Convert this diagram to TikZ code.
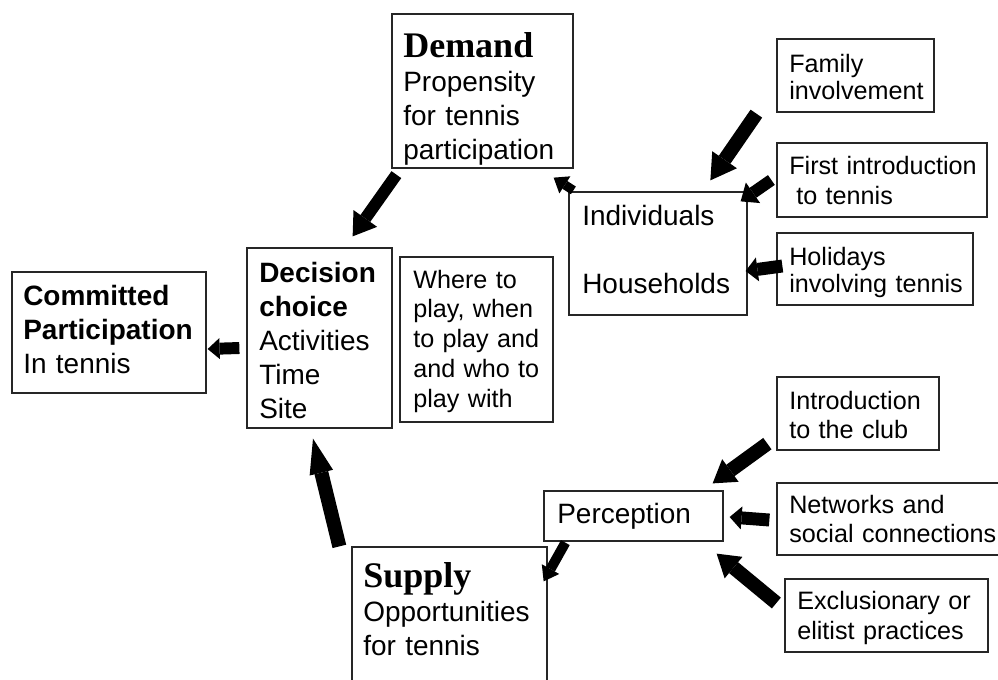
\documentclass[tikz,border=0pt]{standalone}
\usepackage{fontspec}
\setmainfont{Liberation Sans}
\newfontfamily\headserif{Liberation Serif}
\usetikzlibrary{fit,arrows.meta}
\newcommand\fsz[2]{\fontsize{#1}{#2}\selectfont}
\newcommand\headword[1]{{\headserif\bfseries\fontsize{25.6pt}{24pt}\selectfont #1}}
\begin{document}
\begin{tikzpicture}[x=0.025cm,y=-0.025cm,
  box/.style={draw=black!85,line width=0.9pt,inner sep=0pt},
  txt/.style={anchor=base west,inner sep=0pt,align=left,text width=7cm},
  big/.style={txt,font=\fsz{19.9pt}{24.2pt}},
  small/.style={txt,font=\fsz{17.9pt}{#1}},
  blk/.style n args={3}{line width=#1,-{Triangle[width=#2,length=#3,line width=0pt]}}]
\useasboundingbox (0,0) rectangle (998,679);

% boxes
\node[box,fit={(392,14) (573,168)}] (demand) {};
\node[box,fit={(777,39) (934,112)}] (family) {};
\node[box,fit={(777,143) (987,217)}] (first) {};
\node[box,fit={(777,233) (973,305)}] (holidays) {};
\node[box,fit={(569,192) (747,315)}] (indiv) {};
\node[box,fit={(12,272) (206,393)}] (committed) {};
\node[box,fit={(247,248) (392,428)}] (decision) {};
\node[box,fit={(400,257) (553,422)}] (where) {};
\node[box,fit={(352,547) (547,700)}] (supply) {};
\node[box,fit={(544,491) (723,541)}] (perception) {};
\node[box,fit={(777,377) (939,450)}] (club) {};
\node[box,fit={(777,483) (1010,555)}] (networks) {};
\node[box,fit={(785,579) (988,652)}] (exclusion) {};

% texts
\node[big] (demand-t) at (403,57) {\headword{Demand}\\Propensity\\for tennis\\participation};
\node[small=19.9pt] (family-t) at (789,72) {Family\\involvement};
\node[small=22pt] (first-t) at (789,174) {First introduction\\\hspace*{.28em}to tennis};
\node[small=19.9pt] (holidays-t) at (789,265) {Holidays\\involving tennis};
\node[txt,font=\fsz{19.9pt}{48.4pt}] (indiv-t) at (582,225) {Individuals\\Households};
\node[big] (committed-t) at (23,305) {\textbf{Committed}\\\textbf{Participation}\\In tennis};
\node[big] (decision-t) at (259,282) {\textbf{Decision}\\\textbf{choice}\\Activities\\Time\\Site};
\node[small=21.3pt] (where-t) at (413,288) {Where to\\play, when\\to play and\\and who to\\play with};
\node[big] (supply-t) at (363,587) {\headword{Supply}\\Opportunities\\for tennis};
\node[big] (perception-t) at (557,523) {Perception};
\node[small=21.3pt] (club-t) at (789,409) {Introduction\\to the club};
\node[small=21.3pt] (networks-t) at (789,513) {Networks and\\social connections};
\node[small=22pt] (exclusion-t) at (797,609) {Exclusionary or\\elitist practices};

% block arrows
\draw[blk={8.5pt}{20.6pt}{15.6pt}] ([shift={(5,6)}]demand.south west) -- ([shift={(-40,-11)}]decision.north east);
\draw[blk={6.5pt}{14.5pt}{9.5pt}] ([shift={(5,-1)}]indiv.north west) -- ([shift={(-20,9)}]demand.south east);
\draw[blk={10pt}{21.3pt}{17.8pt}] ([shift={(-20,1)}]family.south west) -- ([shift={(142,-11)}]indiv.north west);
\draw[blk={8.5pt}{17.8pt}{10.7pt}] ([shift={(-5,0)}]first.west) -- ([shift={(-7,10)}]indiv.north east);
\draw[blk={9.2pt}{17.1pt}{8.5pt}] ([shift={(6,-3)}]holidays.west) -- ([shift={(-2,17.5)}]indiv.east);
\draw[blk={8.5pt}{14.9pt}{8.5pt}] ([shift={(-7,10)}]decision.west) -- ([shift={(1,16.5)}]committed.east);
\draw[blk={10pt}{17.1pt}{24.9pt}] ([shift={(-12,0)}]supply.north west) -- ([shift={(-6.5,10)}]decision.south);
\draw[blk={7.1pt}{14.2pt}{10pt}] ([shift={(22,1)}]perception.south west) -- ([shift={(-4,35)}]supply.north east);
\draw[blk={10pt}{19.9pt}{15.6pt}] ([shift={(-9,-7)}]club.south west) -- ([shift={(-11,-7)}]perception.north east);
\draw[blk={9.2pt}{16.4pt}{8.5pt}] ([shift={(-7,1)}]networks.west) -- ([shift={(6,1)}]perception.east);
\draw[blk={10pt}{19.9pt}{15.6pt}] ([shift={(-8,-12.5)}]exclusion.west) -- ([shift={(-7,12)}]perception.south east);
\end{tikzpicture}
\end{document}
